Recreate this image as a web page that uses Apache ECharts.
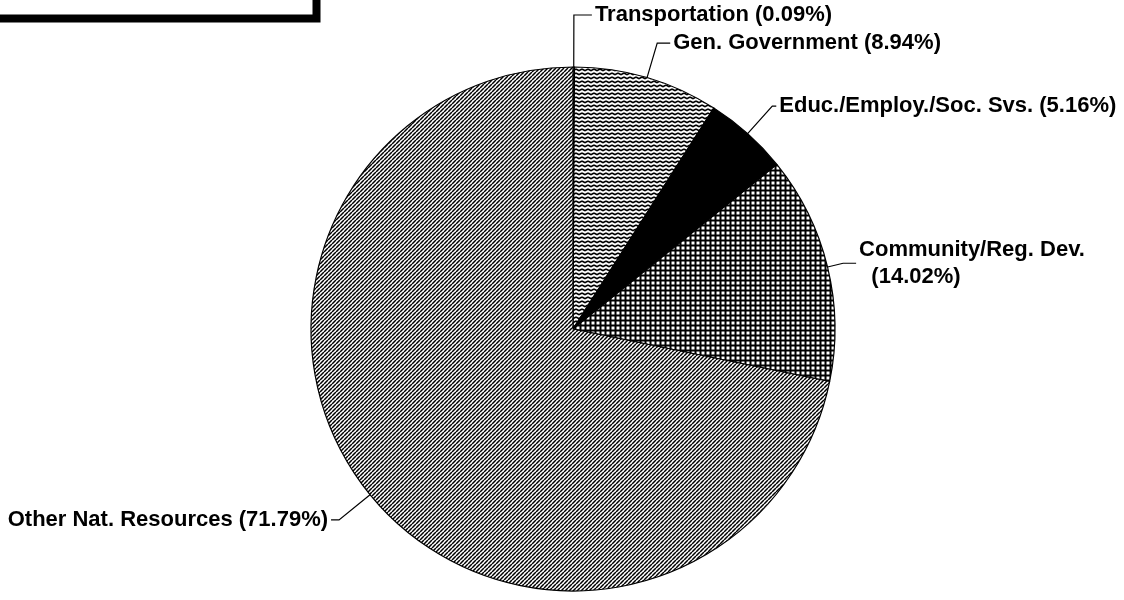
<!DOCTYPE html>
<html>
<head>
<meta charset="utf-8">
<script src="https://cdn.jsdelivr.net/npm/echarts@6/dist/echarts.min.js"></script>
<style>
  html, body { margin: 0; padding: 0; background: #fff; }
  #chart { width: 1124px; height: 600px; }
</style>
</head>
<body>
<div id="chart"></div>
<script>
// slices, clockwise from 12 o'clock
const names = ['Transportation', 'Gen. Government', 'Educ./Employ./Soc. Svs.', 'Community/Reg. Dev.', 'Other Nat. Resources']
const shares = [0.09, 8.94, 5.16, 14.02, 71.79]
// label lines (radial part, horizontal part)
const lineLen = [52, 36, 37, 16, 40]
const lineLen2 = [18, 13, 4, 13, 8]
// names whose percent goes on a second line
const wrapNames = ['Community/Reg. Dev.']

function tile(w, h, draw) {
  const c = document.createElement('canvas')
  c.width = w
  c.height = h
  const ctx = c.getContext('2d')
  ctx.fillStyle = '#fff'
  ctx.fillRect(0, 0, w, h)
  ctx.strokeStyle = '#000'
  ctx.fillStyle = '#000'
  draw(ctx)
  return { image: c, repeat: 'repeat' }
}

// wavy horizontal lines
const wavy = tile(6, 4, function (ctx) {
  ctx.lineWidth = 1.6
  ctx.beginPath()
  ctx.moveTo(0, 1)
  ctx.lineTo(3, 2.6)
  ctx.lineTo(6, 1)
  ctx.stroke()
})
// small square grid
const grid = tile(5, 5, function (ctx) {
  ctx.fillRect(0, 0, 5, 5)
  ctx.fillStyle = '#fff'
  ctx.fillRect(1.5, 1.5, 3, 3)
})
// forward diagonal hatch
const hatch = tile(4, 4, function (ctx) {
  ctx.lineWidth = 1.5
  ctx.beginPath()
  for (let k = -4; k <= 4; k += 4) {
    ctx.moveTo(k, 4)
    ctx.lineTo(k + 4, 0)
  }
  ctx.stroke()
})
const fills = [wavy, wavy, '#000', grid, hatch]

const chart = echarts.init(document.getElementById('chart'))

const data = names.map(function (n, i) {
  return {
    name: n,
    value: shares[i],
    itemStyle: { color: fills[i] },
    labelLine: { length: lineLen[i], length2: lineLen2[i] },
  }
})

const option = {
  animation: false,
  backgroundColor: '#fff',
  graphic: [
    {
      // corner of the title box, cut off by the page edge
      type: 'rect',
      shape: { x: -10, y: -10, width: 324, height: 26 },
      style: {
        fill: '#fff',
        stroke: '#000',
        lineWidth: 3,
        shadowColor: '#000',
        shadowOffsetX: 5,
        shadowOffsetY: 5,
        shadowBlur: 0,
      },
    },
  ],
  series: [
    {
      type: 'pie',
      center: [573, 329],
      radius: 262,
      startAngle: 90,
      clockwise: true,
      avoidLabelOverlap: false,
      itemStyle: {
        borderColor: '#000',
        borderWidth: 1.2,
      },
      emphasis: { disabled: true },
      label: {
        show: true,
        position: 'outside',
        alignTo: 'none',
        distanceToLabelLine: 3,
        color: '#000',
        fontFamily: 'Liberation Sans, Arial, sans-serif',
        fontWeight: 'bold',
        fontSize: 22,
        lineHeight: 27,
        formatter: function (p) {
          const pct = p.value.toFixed(2) + '%'
          if (wrapNames.indexOf(p.name) >= 0) {
            return p.name + '\n  (' + pct + ')'
          }
          return p.name + ' (' + pct + ')'
        },
      },
      labelLine: {
        show: true,
        smooth: false,
        lineStyle: { color: '#000', width: 1.2 },
      },
      data: data,
    },
  ],
}
chart.setOption(option)
</script>
</body>
</html>
